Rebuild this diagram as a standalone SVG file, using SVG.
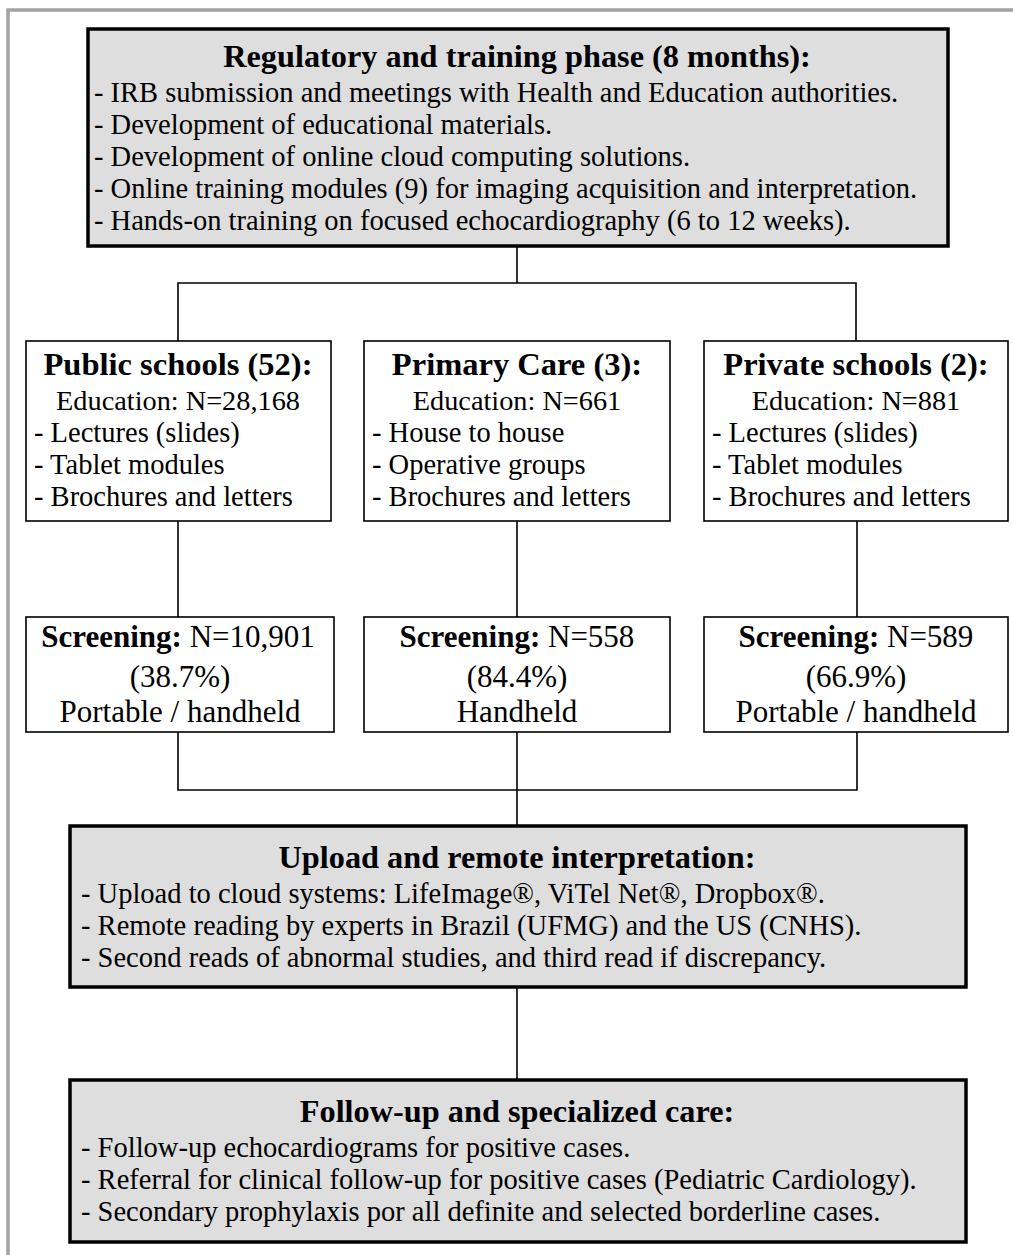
<svg xmlns="http://www.w3.org/2000/svg" width="1013" height="1255" viewBox="0 0 1013 1255">
<style>
.frame{fill:none;stroke:#a3a3a3;stroke-width:3.5}
.gbox{fill:#dedede;stroke:#000;stroke-width:3.5}
.wbox{fill:#fff;stroke:#000;stroke-width:1.6}
.conn{fill:none;stroke:#000;stroke-width:1.6}
text{font-family:"Liberation Serif","Times New Roman",serif;fill:#000}
.h1{font-size:32.3px;font-weight:bold;text-anchor:middle}
.l1{font-size:28.5px}
.h2{font-size:32.5px;font-weight:bold;text-anchor:middle}
.l2{font-size:28.5px}
.c2{font-size:28.3px;text-anchor:middle}
.s{font-size:31px;text-anchor:middle}
</style>
<rect width="1013" height="1255" fill="#fff"/>
<path class="frame" d="M8,1255 V10 H1013"/>
<g id="connectors">
<path class="conn" d="M517,246 V283 M178,341 V283 H856 V341"/>
<path class="conn" d="M178,521 V617 M517,521 V617 M857,521 V617"/>
<path class="conn" d="M178,732 V790 H857 V732 M517,732 V826"/>
<path class="conn" d="M517,987 V1080"/>
</g>
<g id="regulatory">
<rect class="gbox" x="88" y="29" width="860" height="217"/>
<text class="h1" x="517" y="67">Regulatory and training phase (8 months):</text>
<text class="l1" x="94" y="102">- IRB submission and meetings with Health and Education authorities.</text>
<text class="l1" x="94" y="134">- Development of educational materials.</text>
<text class="l1" x="94" y="166">- Development of online cloud computing solutions.</text>
<text class="l1" x="94" y="198">- Online training modules (9) for imaging acquisition and interpretation.</text>
<text class="l1" x="94" y="230">- Hands-on training on focused echocardiography (6 to 12 weeks).</text>
</g>
<g id="public">
<rect class="wbox" x="26" y="341" width="305" height="180"/>
<text class="h2" x="178" y="375">Public schools (52):</text>
<text class="c2" x="178" y="410">Education: N=28,168</text>
<text class="l2" x="34" y="442">- Lectures (slides)</text>
<text class="l2" x="34" y="474">- Tablet modules</text>
<text class="l2" x="34" y="506">- Brochures and letters</text>
</g>
<g id="primary">
<rect class="wbox" x="364" y="341" width="306" height="180"/>
<text class="h2" x="517" y="375">Primary Care (3):</text>
<text class="c2" x="517" y="410">Education: N=661</text>
<text class="l2" x="372" y="442">- House to house</text>
<text class="l2" x="372" y="474">- Operative groups</text>
<text class="l2" x="372" y="506">- Brochures and letters</text>
</g>
<g id="private">
<rect class="wbox" x="704" y="341" width="304" height="180"/>
<text class="h2" x="856" y="375">Private schools (2):</text>
<text class="c2" x="856" y="410">Education: N=881</text>
<text class="l2" x="712" y="442">- Lectures (slides)</text>
<text class="l2" x="712" y="474">- Tablet modules</text>
<text class="l2" x="712" y="506">- Brochures and letters</text>
</g>
<g id="screen-public">
<rect class="wbox" x="26" y="617" width="308" height="115"/>
<text class="s" x="178" y="647"><tspan font-weight="bold">Screening:</tspan> N=10,901</text>
<text class="s" x="180" y="687">(38.7%)</text>
<text class="s" x="180" y="722">Portable / handheld</text>
</g>
<g id="screen-primary">
<rect class="wbox" x="364" y="617" width="306" height="115"/>
<text class="s" x="517" y="647"><tspan font-weight="bold">Screening:</tspan> N=558</text>
<text class="s" x="517" y="687">(84.4%)</text>
<text class="s" x="517" y="722">Handheld</text>
</g>
<g id="screen-private">
<rect class="wbox" x="704" y="617" width="304" height="115"/>
<text class="s" x="856" y="647"><tspan font-weight="bold">Screening:</tspan> N=589</text>
<text class="s" x="856" y="687">(66.9%)</text>
<text class="s" x="856" y="722">Portable / handheld</text>
</g>
<g id="upload">
<rect class="gbox" x="70" y="826" width="896" height="161"/>
<text class="h1" x="517" y="868">Upload and remote interpretation:</text>
<text class="l1" x="81" y="903">- Upload to cloud systems: LifeImage®, ViTel Net®, Dropbox®.</text>
<text class="l1" x="81" y="935">- Remote reading by experts in Brazil (UFMG) and the US (CNHS).</text>
<text class="l1" x="81" y="967">- Second reads of abnormal studies, and third read if discrepancy.</text>
</g>
<g id="followup">
<rect class="gbox" x="70" y="1080" width="896" height="162"/>
<text class="h1" x="517" y="1122">Follow-up and specialized care:</text>
<text class="l1" x="81" y="1157">- Follow-up echocardiograms for positive cases.</text>
<text class="l1" x="81" y="1189">- Referral for clinical follow-up for positive cases (Pediatric Cardiology).</text>
<text class="l1" x="81" y="1221">- Secondary prophylaxis por all definite and selected borderline cases.</text>
</g>
</svg>
